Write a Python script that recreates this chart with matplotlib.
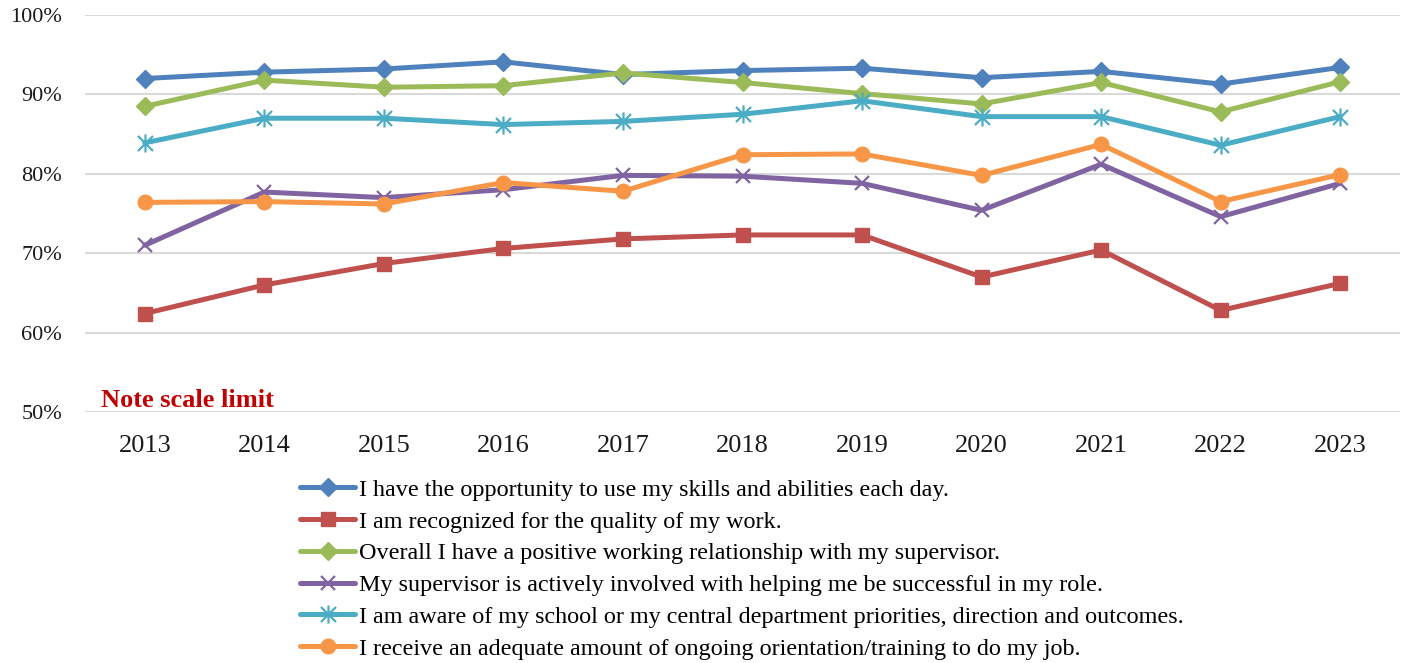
import matplotlib
matplotlib.use("Agg")
import matplotlib.pyplot as plt
from matplotlib.path import Path
from matplotlib.ticker import FuncFormatter

years = ["2013", "2014", "2015", "2016", "2017", "2018", "2019", "2020", "2021", "2022", "2023"]

skills = [92.0, 92.8, 93.2, 94.1, 92.5, 93.0, 93.3, 92.1, 92.9, 91.3, 93.4]
recognized = [62.4, 66.0, 68.7, 70.6, 71.8, 72.3, 72.3, 67.0, 70.4, 62.8, 66.2]
supervisor_rel = [88.5, 91.8, 90.9, 91.1, 92.7, 91.5, 90.1, 88.8, 91.5, 87.8, 91.6]
supervisor_help = [71.0, 77.7, 77.0, 78.0, 79.8, 79.7, 78.8, 75.4, 81.2, 74.6, 78.8]
priorities = [83.9, 87.0, 87.0, 86.2, 86.6, 87.5, 89.2, 87.2, 87.2, 83.6, 87.2]
training = [76.4, 76.5, 76.2, 78.9, 77.8, 82.4, 82.5, 79.8, 83.7, 76.5, 79.9]

labels = [
    "I have the opportunity to use my skills and abilities each day.",
    "I am recognized for the quality of my work.",
    "Overall I have a positive working relationship with my supervisor.",
    "My supervisor is actively involved with helping me be successful in my role.",
    "I am aware of my school or my central department priorities, direction and outcomes.",
    "I receive an adequate amount of ongoing orientation/training to do my job.",
]

# asterisk marker: an "x" with a vertical stroke through it
star_path = Path(
    [(-0.5, -0.5), (0.5, 0.5), (-0.5, 0.5), (0.5, -0.5), (0, -0.6), (0, 0.6)],
    [Path.MOVETO, Path.LINETO, Path.MOVETO, Path.LINETO, Path.MOVETO, Path.LINETO],
)

series = [
    (skills, "#4f81bd", "D", 9),
    (recognized, "#c0504d", "s", 10),
    (supervisor_rel, "#9bbb59", "D", 9),
    (supervisor_help, "#8064a2", "x", 10),
    (priorities, "#4bacc6", star_path, 13),
    (training, "#f79646", "o", 10.5),
]

plt.rcParams["font.family"] = ["Liberation Serif", "DejaVu Serif"]

fig = plt.figure(figsize=(14.05, 6.63), dpi=100)
ax = fig.add_axes([85 / 1405, 1 - 412 / 663, 1315 / 1405, 397 / 663])

x = list(range(len(years)))
handles = []
for vals, color, marker, ms in series:
    thin = marker == "x" or isinstance(marker, Path)
    (h,) = ax.plot(
        x, vals, color=color, lw=3.6, marker=marker, markersize=ms,
        markerfacecolor=color, markeredgecolor=color,
        markeredgewidth=1.6 if thin else 1.0,
        solid_joinstyle="round", solid_capstyle="round", zorder=3,
    )
    handles.append(h)

ax.set_xlim(-0.5, len(years) - 0.5)
ax.set_ylim(50, 100)
ax.set_yticks([50, 60, 70, 80, 90, 100])
ax.yaxis.set_major_formatter(FuncFormatter(lambda v, p: f"{v:.0f}%"))
ax.set_xticks(x)
ax.set_xticklabels(years)
ax.grid(axis="y", color="#d9d9d9", lw=1.5, zorder=0)
ax.set_axisbelow(True)
for s in ax.spines.values():
    s.set_visible(False)
ax.tick_params(axis="both", length=0, colors="#1a1a1a")
ax.tick_params(axis="x", labelsize=19, pad=16.5)
ax.tick_params(axis="y", labelsize=16, pad=16.5)

ax.text(16 / 1315, 5 / 397, "Note scale limit", transform=ax.transAxes,
        color="#c00000", fontsize=19, fontweight="bold", va="baseline", ha="left")

fig.legend(
    handles, labels, loc="upper left",
    bbox_to_anchor=(300 / 1405, 1 - 479 / 663),
    frameon=False, fontsize=17.35, handlelength=2.3, handletextpad=0.15,
    labelspacing=0.41, numpoints=1, borderaxespad=0, borderpad=0,
)

fig.savefig("out.png", dpi=100)
